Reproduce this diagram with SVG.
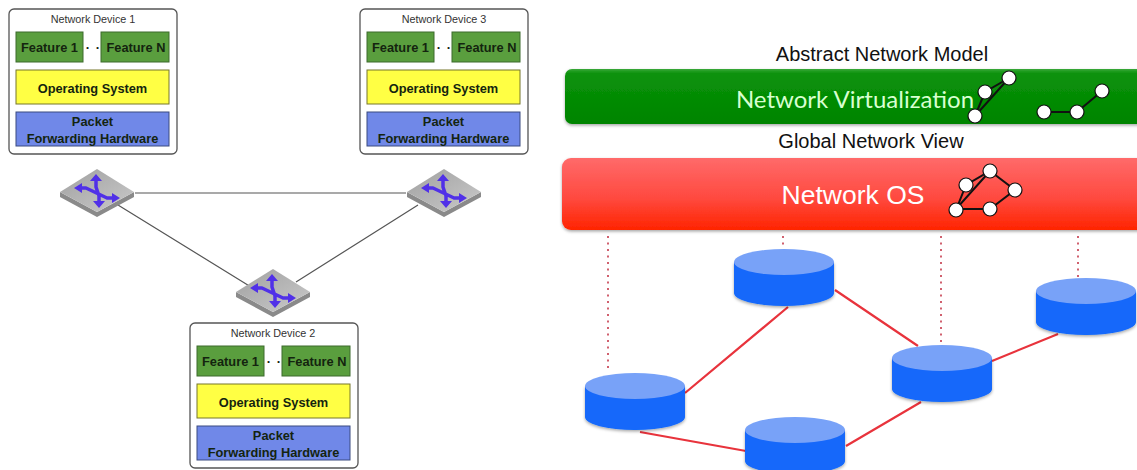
<svg xmlns="http://www.w3.org/2000/svg" xmlns:xlink="http://www.w3.org/1999/xlink" width="1137" height="470" viewBox="0 0 1137 470">
<style>
text{font-family:"Liberation Sans",Arial,sans-serif;text-anchor:middle}
.dev{fill:#fff;stroke:#555;stroke-width:1.3}
.fe{fill:#5a9e3e;stroke:#3c6b2c;stroke-width:1}
.os{fill:#ffff44;stroke:#77772a;stroke-width:1}
.hw{fill:#7088e8;stroke:#3a4a80;stroke-width:1}
.t{font-size:12.800px;font-weight:bold;fill:#14240f}
.title{font-size:10.800px;fill:#333}
.lk{stroke:#555;stroke-width:1.2;fill:none}
.red{stroke:#e8333c;stroke-width:2.2;fill:none}
.dot{stroke:#d0606e;stroke-width:2;stroke-dasharray:2 4.500;fill:none}
.hd{font-size:20px;fill:#111}
.bar{font-family:Lato,"Open Sans",sans-serif;font-size:24px}
.os-t{font-family:"Liberation Sans",sans-serif;font-size:26.500px;fill:#fff}
.n{fill:#fff;stroke:#111;stroke-width:1.2}
.e{stroke:#111;stroke-width:2;fill:none}
.side{fill:#1268fa}
.top{fill:#78a2f8}
.arrow{fill:none;stroke:#5030e8;stroke-width:3.500;stroke-linejoin:round}
.head{fill:#5030e8}
</style>
<defs>
<linearGradient id="gb" x1="0" y1="0" x2="0" y2="1"><stop offset="0" stop-color="#3aa83a"/><stop offset=".08" stop-color="#0a920a"/><stop offset="1" stop-color="#008400"/></linearGradient>
<linearGradient id="rb" x1="0" y1="0" x2="0" y2="1"><stop offset="0" stop-color="#ff6a6a"/><stop offset=".55" stop-color="#ff4a40"/><stop offset="1" stop-color="#ff2400"/></linearGradient>
<linearGradient id="sw" x1="0" y1="0" x2="1" y2="1"><stop offset="0" stop-color="#a0a0a0"/><stop offset="1" stop-color="#cacaca"/></linearGradient>
<filter id="sh" x="-5%" y="-10%" width="110%" height="125%"><feDropShadow dx="0" dy="1.500" stdDeviation="1.500" flood-color="#000" flood-opacity=".35"/></filter>
<g id="device">
<rect class="dev" x="0" y="0" width="168" height="145" rx="5"/>
<rect class="fe" x="7" y="23" width="67" height="30"/>
<text class="t" x="40.500" y="43">Feature 1</text>
<text class="t" x="79" y="43">·</text>
<text class="t" x="89" y="43">·</text>
<rect class="fe" x="92" y="23" width="68" height="30"/>
<text class="t" x="127" y="43">Feature N</text>
<rect class="os" x="7" y="61" width="153" height="34"/>
<text class="t" x="83.500" y="83.500">Operating System</text>
<rect class="hw" x="7" y="103" width="153" height="34"/>
<text class="t" x="83.500" y="117">Packet</text>
<text class="t" x="83.500" y="134">Forwarding Hardware</text>
</g>
<g id="switch">
<path d="M-37 0L0 20L37 0V5L0 25L-37 5Z" fill="#8a8a8a"/>
<path d="M-37 0L0-23L37 0L0 20Z" fill="url(#sw)"/>
<path class="arrow" d="M-18-4H-11L10 6H18M-1-13V-5L2 4V11"/>
<path class="head" d="M-23-4L-15-9V1ZM23 6L15 1V11ZM-1-18L-7-11H5ZM2 16L-4 9H8Z"/>
</g>
<g id="cyl">
<path class="side" d="M-50 0V31A50 13 0 0 0 50 31V0Z" filter="url(#sh)"/>
<ellipse class="top" cx="0" cy="0" rx="50" ry="13"/>
</g>
</defs>
<rect width="1137" height="470" fill="#fff"/>

<g id="connectors">
<path class="lk" d="M135 193H406M118 205L251 287M418 205L296 282"/>
<path class="dot" d="M608 236V372M783 236V249M941 236V346M1078 236V278"/>
<path class="red" d="M685 393L788 307M835 290L918 346M992 361L1058 334M640 432L746 451M846 446L921 402"/>
</g>

<g id="device1" transform="translate(9 9)"><use xlink:href="#device"/><text class="title" x="84" y="14">Network Device 1</text></g>
<g id="device3" transform="translate(360 9)"><use xlink:href="#device"/><text class="title" x="84" y="14">Network Device 3</text></g>
<g id="device2" transform="translate(190 323)"><use xlink:href="#device"/><text class="title" x="83" y="14">Network Device 2</text></g>
<g id="switch1" transform="translate(97 192)"><use xlink:href="#switch"/></g>
<g id="switch3" transform="translate(444 192)"><use xlink:href="#switch"/></g>
<g id="switch2" transform="translate(273 292)"><use xlink:href="#switch"/></g>

<g id="abstract-label"><text class="hd" x="882" y="61">Abstract Network Model</text></g>
<g id="network-virtualization">
<rect x="565" y="69" width="590" height="55" rx="7" fill="url(#gb)" filter="url(#sh)"/>
<text class="bar" x="855" y="108" fill="#d8ffd0">Network Virtualization</text>
<path class="e" d="M975 116L985 92L1009 78ZM1044 112H1077L1102 91"/>
<circle class="n" cx="975" cy="116" r="7"/><circle class="n" cx="985" cy="92" r="7"/><circle class="n" cx="1009" cy="78" r="7"/>
<circle class="n" cx="1044" cy="112" r="7"/><circle class="n" cx="1077" cy="112" r="7"/><circle class="n" cx="1102" cy="91" r="7"/>
</g>
<g id="global-label"><text class="hd" x="871" y="148">Global Network View</text></g>
<g id="network-os">
<rect x="562" y="158" width="590" height="72" rx="9" fill="url(#rb)" filter="url(#sh)"/>
<text class="os-t" x="853" y="204">Network OS</text>
<path class="e" d="M956 210L966 185L990 171L1015 190L990 209H956L990 171"/>
<circle class="n" cx="956" cy="210" r="7"/><circle class="n" cx="966" cy="185" r="7"/><circle class="n" cx="990" cy="171" r="7"/><circle class="n" cx="1015" cy="190" r="7"/><circle class="n" cx="990" cy="209" r="7"/>
</g>
<g id="node-a" transform="translate(635 386)"><use xlink:href="#cyl"/></g>
<g id="node-b" transform="translate(784 262)"><use xlink:href="#cyl"/></g>
<g id="node-c" transform="translate(942 358)"><use xlink:href="#cyl"/></g>
<g id="node-d" transform="translate(1086 291)"><use xlink:href="#cyl"/></g>
<g id="node-e" transform="translate(795 430)"><use xlink:href="#cyl"/></g>
</svg>
